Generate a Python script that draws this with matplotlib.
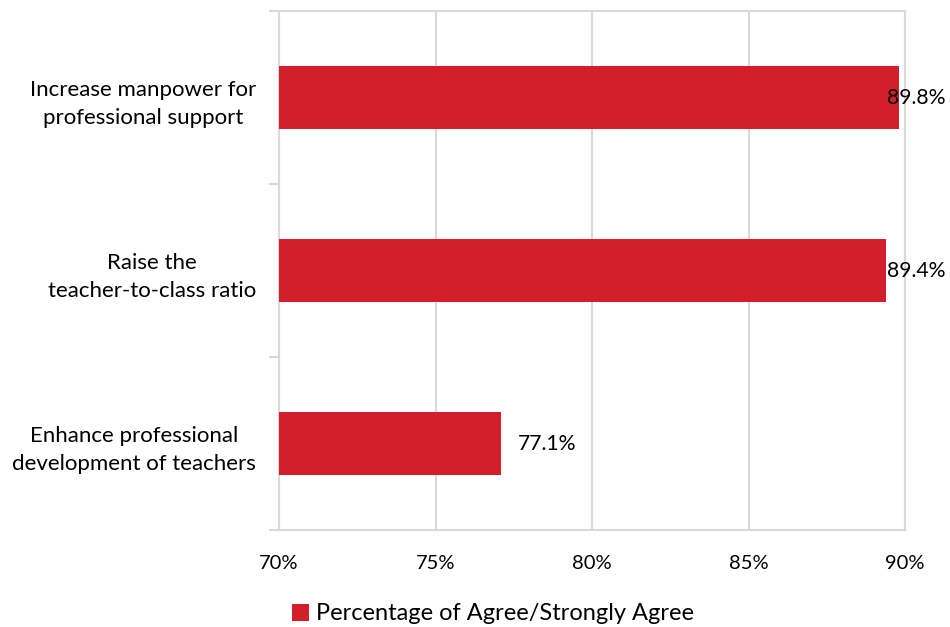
import matplotlib
matplotlib.use("Agg")
import matplotlib.pyplot as plt
import matplotlib.transforms as mtransforms
from matplotlib.ticker import FixedLocator, FuncFormatter

categories = ["Increase manpower for\nprofessional support",
              "Raise the\nteacher-to-class ratio",
              "Enhance professional\ndevelopment of teachers"]
values = [89.8, 89.4, 77.1]
xticks = [70, 75, 80, 85, 90]
series_name = "Percentage of Agree/Strongly Agree"

plt.rcParams['font.family'] = ['Lato', 'DejaVu Sans']
bar_color = '#D21F2B'
grid_color = '#D9D9D9'
fs_tick = 14.5
fs_cat = 16
fs_lab = 15.2
fs_leg = 17

fig = plt.figure(figsize=(9.5, 6.27), dpi=100)
ax = fig.add_axes([279/950, 1-530/627, (905-279)/950, (530-11)/627])

ypos = list(range(len(categories)))
bars = ax.barh(ypos, values, height=0.36, color=bar_color, left=0, zorder=3,
               label=series_name)
ax.set_xlim(xticks[0], xticks[-1])
ax.set_ylim(len(categories) - 0.5, -0.5)
ax.set_xticks(xticks)
ax.xaxis.set_major_formatter(FuncFormatter(lambda v, p: f"{v:.0f}%"))
ax.grid(axis='x', color=grid_color, linewidth=1.5, zorder=0)
ax.set_axisbelow(True)

ax.set_yticks(ypos)
ax.set_yticklabels(categories, multialignment='center', fontsize=fs_cat,
                   linespacing=1.5)
ax.yaxis.set_minor_locator(FixedLocator([i - 0.5 for i in range(len(categories) + 1)]))
ax.tick_params(axis='y', which='major', length=0, pad=16.5, colors='black')
ax.tick_params(axis='y', which='minor', length=7, width=1.5, color=grid_color)
ax.tick_params(axis='x', length=0, pad=18, labelsize=fs_tick)

for s in ax.spines.values():
    s.set_color(grid_color)
    s.set_linewidth(1.5)

# data labels
fig.canvas.draw()
renderer = fig.canvas.get_renderer()
limit_px = 946
for y, v in zip(ypos, values):
    t = ax.annotate(f"{v:.1f}%", xy=(v, y), xytext=(12, 0), textcoords='offset points',
                    ha='left', va='center', fontsize=fs_lab, zorder=5, annotation_clip=False)
    bb = t.get_window_extent(renderer)
    if bb.x1 > limit_px:
        t.remove()
        tr = mtransforms.blended_transform_factory(fig.transFigure, ax.transData)
        ax.text(limit_px/950, y, f"{v:.1f}%", transform=tr, ha='right', va='center',
                fontsize=fs_lab, zorder=5)

fig.legend(handles=[bars], labels=[series_name], loc='center',
           bbox_to_anchor=(493/950, 1-614/627), frameon=False, fontsize=fs_leg,
           handlelength=0.75, handleheight=0.75, handletextpad=0.3)

fig.savefig("out.png", dpi=100)
